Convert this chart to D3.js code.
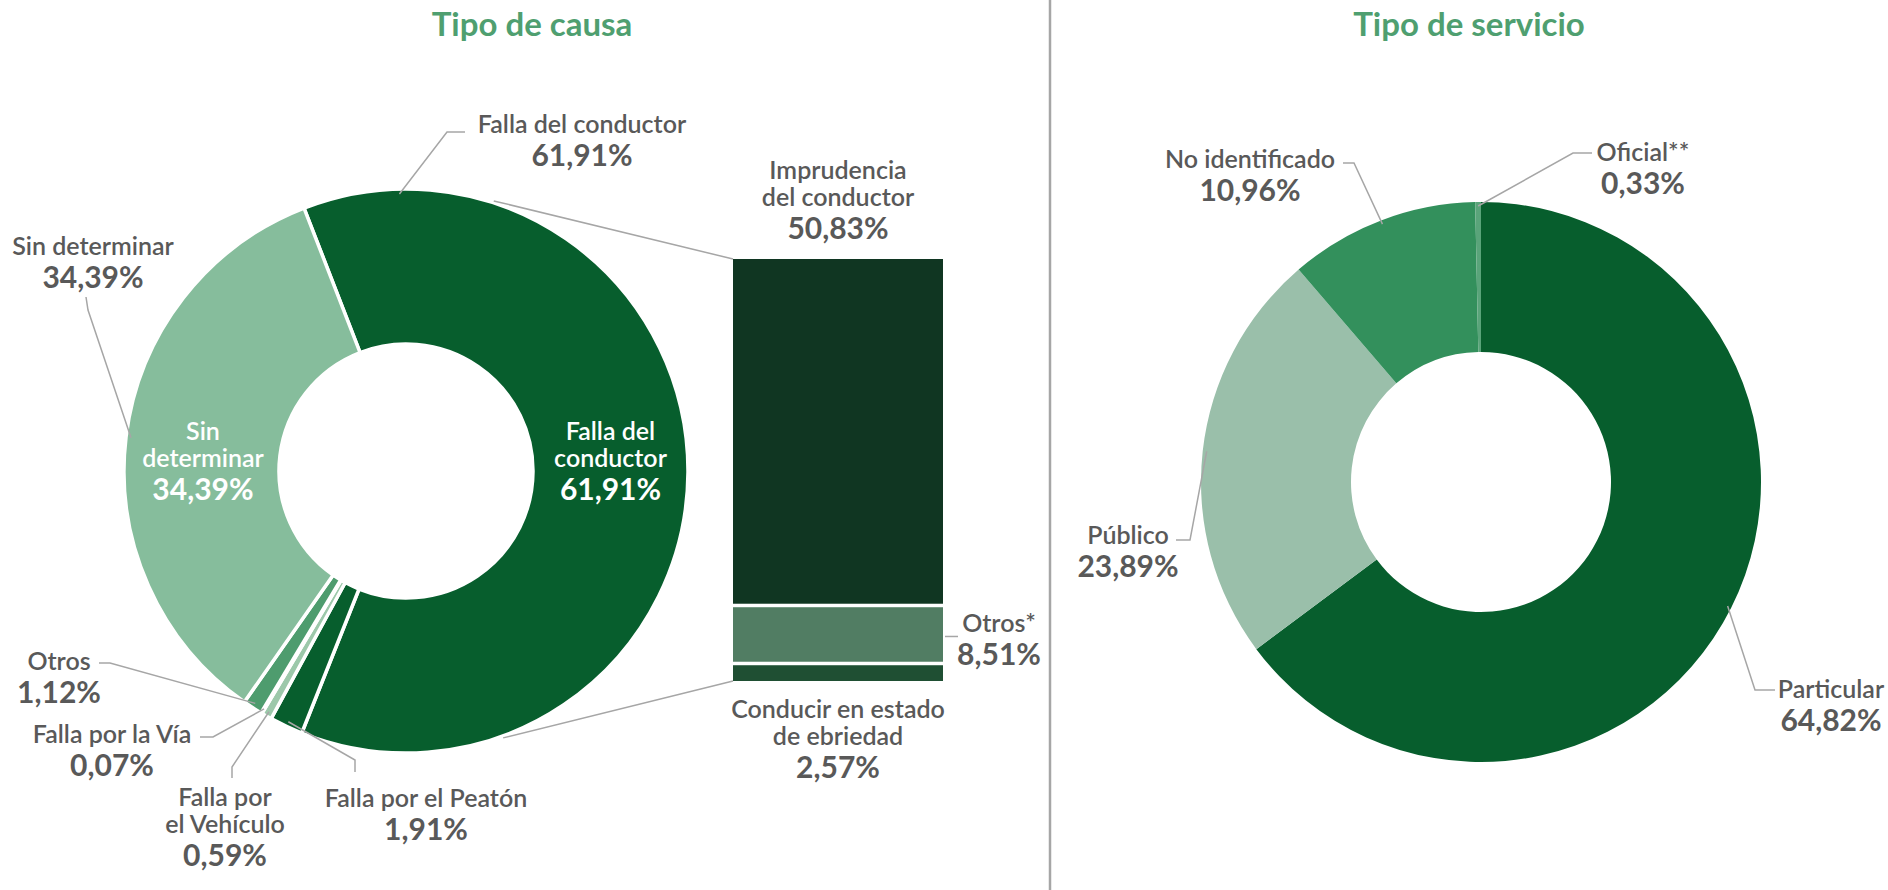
<!DOCTYPE html>
<html>
<head>
<meta charset="utf-8">
<script src="https://cdn.jsdelivr.net/npm/d3@7"></script>
<style>
  body { margin: 0; background: #fff; }
  svg text { font-family: Lato, "Open Sans", sans-serif; }
</style>
</head>
<body>
<div id="chart"></div>
<script>
// Tipo de causa (pie principal)
var causaNames = ["Falla del conductor", "Falla por el Peatón", "Falla por el Vehículo", "Falla por la Vía", "Otros", "Sin determinar"];
var causaValues = [61.91, 1.91, 0.59, 0.07, 1.12, 34.39];
var causaColors = ["#075e2d", "#075e2d", "#9cc8aa", "#c4ddce", "#4e9c6e", "#86bd9c"];

// desglose de "Falla del conductor" (barra)
var detalleNames = ["Imprudencia del conductor", "Otros*", "Conducir en estado de ebriedad"];
var detalleValues = [50.83, 8.51, 2.57];
var detalleColors = ["#103622", "#517d63", "#1f4f33"];

// Tipo de servicio
var servicioNames = ["Particular", "Público", "No identificado", "Oficial**"];
var servicioValues = [64.82, 23.89, 10.96, 0.33];
var servicioColors = ["#075e2d", "#9abfaa", "#33905c", "#5aa47a"];

var width = 1888,
    height = 890;

var gray = "#595959",
    lineGray = "#a6a6a6",
    titleGreen = "#4f9f70";

var fmt = function(v) { return d3.format(".2f")(v).replace(".", ",") + "%"; };
var rad = function(deg) { return deg * Math.PI / 180; };

var svg = d3.select("#chart")
  .append("svg")
    .attr("width", width)
    .attr("height", height);

// divider between the two charts
svg.append("line")
  .attr("x1", 1050).attr("x2", 1050)
  .attr("y1", 0).attr("y2", height)
  .attr("stroke", lineGray)
  .attr("stroke-width", 2.5);

function title(txt, x) {
  svg.append("text")
    .attr("x", x).attr("y", 36)
    .attr("text-anchor", "middle")
    .style("font-size", "33px")
    .style("font-weight", 700)
    .attr("fill", titleGreen)
    .text(txt);
}

// name lines + value line, first baseline at y
function label(g, x, y, lines, value, color, anchor) {
  var t = g.append("text")
    .attr("text-anchor", anchor || "middle")
    .attr("fill", color || gray);
  lines.forEach(function(l, i) {
    t.append("tspan")
      .attr("x", x)
      .attr("y", y + i * 27)
      .style("font-size", "25px")
      .style("font-weight", 600)
      .text(l);
  });
  t.append("tspan")
    .attr("x", x)
    .attr("y", y + (lines.length - 1) * 27 + 33)
    .style("font-size", "30px")
    .style("font-weight", 700)
    .text(value);
}

function leader(g, pts) {
  g.append("polyline")
    .attr("points", pts.map(function(p) { return p.join(","); }).join(" "))
    .attr("fill", "none")
    .attr("stroke", lineGray)
    .attr("stroke-width", 1.5);
}

// point on a circle, angle measured clockwise from 12 o'clock
function polar(cx, cy, r, a) {
  return [cx + r * Math.sin(a), cy - r * Math.cos(a)];
}

// ---------- Tipo de causa ----------
title("Tipo de causa", 532);

var c1 = { x: 406, y: 471, inner: 127, outer: 282, start: -21.2 };

var causaPos = {
  "Falla del conductor": { x: 582, y: 133, lines: ["Falla del conductor"], leader: [[465, 132], [447, 132]], at: 0.089 },
  "Sin determinar": { x: 93, y: 255, lines: ["Sin determinar"], leader: [[86, 297], [88, 310]] },
  "Otros": { x: 59, y: 670, lines: ["Otros"], leader: [[99, 663], [110, 663]] },
  "Falla por la Vía": { x: 112, y: 743, lines: ["Falla por la Vía"], leader: [[200, 737], [213, 737]] },
  "Falla por el Vehículo": { x: 225, y: 806, lines: ["Falla por", "el Vehículo"], leader: [[232, 778], [232, 767]] },
  "Falla por el Peatón": { x: 426, y: 807, lines: ["Falla por el Peatón"], leader: [[355, 772], [355, 760]] }
};
var causaInside = {
  "Falla del conductor": ["Falla del", "conductor"],
  "Sin determinar": ["Sin", "determinar"]
};

var causaData = causaNames.map(function(n, i) {
  return { name: n, value: causaValues[i], color: causaColors[i] };
});

var pie1 = d3.pie()
  .sort(null)
  .value(function(d) { return d.value; })
  .startAngle(rad(c1.start))
  .endAngle(rad(c1.start) + 2 * Math.PI);

var arc1 = d3.arc().innerRadius(c1.inner).outerRadius(c1.outer);

var g1 = svg.append("g");
var causaArcs = pie1(causaData);

g1.append("g")
    .attr("transform", "translate(" + c1.x + "," + c1.y + ")")
  .selectAll("path")
  .data(causaArcs)
  .enter()
  .append("path")
    .attr("d", arc1)
    .attr("fill", function(d) { return d.data.color; })
    .attr("stroke", "#fff")
    .attr("stroke-width", 3.5)
    .attr("stroke-linejoin", "round");

causaArcs.forEach(function(d) {
  var p = causaPos[d.data.name];
  var at = p.at == null ? 0.5 : p.at;
  var a = d.startAngle + at * (d.endAngle - d.startAngle);
  leader(g1, p.leader.concat([polar(c1.x, c1.y, c1.outer - 5, a)]));
  label(g1, p.x, p.y, p.lines, fmt(d.data.value));
  if (causaInside[d.data.name]) {
    var cen = arc1.centroid(d);
    label(g1, c1.x + cen[0], c1.y - 31, causaInside[d.data.name], fmt(d.data.value), "#fff");
  }
});

// ---------- barra de desglose ----------
var bar = { x: 733, w: 210, top: 259, bottom: 681, gap: 3.5 };

var yBar = d3.scaleLinear()
  .domain([0, d3.sum(detalleValues)])
  .range([bar.top, bar.bottom]);

var stacked = [];
var acc = 0;
detalleValues.forEach(function(v, i) {
  stacked.push({ name: detalleNames[i], value: v, color: detalleColors[i], y0: acc, y1: acc + v });
  acc += v;
});

// connector lines from the pie to the bar
var conn = [18, 160];
leader(g1, [polar(c1.x, c1.y, c1.outer + 2, rad(conn[0])), [bar.x, yBar(0)]]);
leader(g1, [polar(c1.x, c1.y, c1.outer + 2, rad(conn[1])), [bar.x, yBar(acc)]]);

g1.selectAll("rect.seg")
  .data(stacked)
  .enter()
  .append("rect")
    .attr("class", "seg")
    .attr("x", bar.x)
    .attr("width", bar.w)
    .attr("y", function(d, i) { return yBar(d.y0) + (i > 0 ? bar.gap / 2 : 0); })
    .attr("height", function(d, i) {
      var top = yBar(d.y0) + (i > 0 ? bar.gap / 2 : 0);
      var bot = yBar(d.y1) - (i < stacked.length - 1 ? bar.gap / 2 : 0);
      return bot - top;
    })
    .attr("fill", function(d) { return d.color; });

var bx = bar.x + bar.w / 2;
label(g1, bx, yBar(0) - 80, ["Imprudencia", "del conductor"], fmt(stacked[0].value));
var midOtros = (yBar(stacked[1].y0) + yBar(stacked[1].y1)) / 2;
leader(g1, [[bar.x + bar.w + 2, midOtros + 2], [bar.x + bar.w + 15, midOtros + 2]]);
label(g1, 999, midOtros - 2, ["Otros*"], fmt(stacked[1].value));
label(g1, bx, yBar(acc) + 37, ["Conducir en estado", "de ebriedad"], fmt(stacked[2].value));

// ---------- Tipo de servicio ----------
title("Tipo de servicio", 1469);

var c2 = { x: 1481, y: 482, inner: 130, outer: 280 };

var servicioPos = {
  "Particular": { x: 1831, y: 698, lines: ["Particular"], leader: [[1775, 690], [1755, 690]] },
  "Público": { x: 1128, y: 544, lines: ["Público"], leader: [[1176, 540], [1190, 540]] },
  "No identificado": { x: 1250, y: 168, lines: ["No identificado"], leader: [[1343, 163], [1354, 163]] },
  "Oficial**": { x: 1643, y: 161, lines: ["Oficial**"], leader: [[1592, 153], [1573, 153]] }
};

var servicioData = servicioNames.map(function(n, i) {
  return { name: n, value: servicioValues[i], color: servicioColors[i] };
});

var pie2 = d3.pie()
  .sort(null)
  .value(function(d) { return d.value; });

var arc2 = d3.arc().innerRadius(c2.inner).outerRadius(c2.outer);

var g2 = svg.append("g");
var servicioArcs = pie2(servicioData);

g2.append("g")
    .attr("transform", "translate(" + c2.x + "," + c2.y + ")")
  .selectAll("path")
  .data(servicioArcs)
  .enter()
  .append("path")
    .attr("d", arc2)
    .attr("fill", function(d) { return d.data.color; });

servicioArcs.forEach(function(d) {
  var p = servicioPos[d.data.name];
  var a = (d.startAngle + d.endAngle) / 2;
  leader(g2, p.leader.concat([polar(c2.x, c2.y, c2.outer - 4, a)]));
  label(g2, p.x, p.y, p.lines, fmt(d.data.value));
});
</script>
</body>
</html>
